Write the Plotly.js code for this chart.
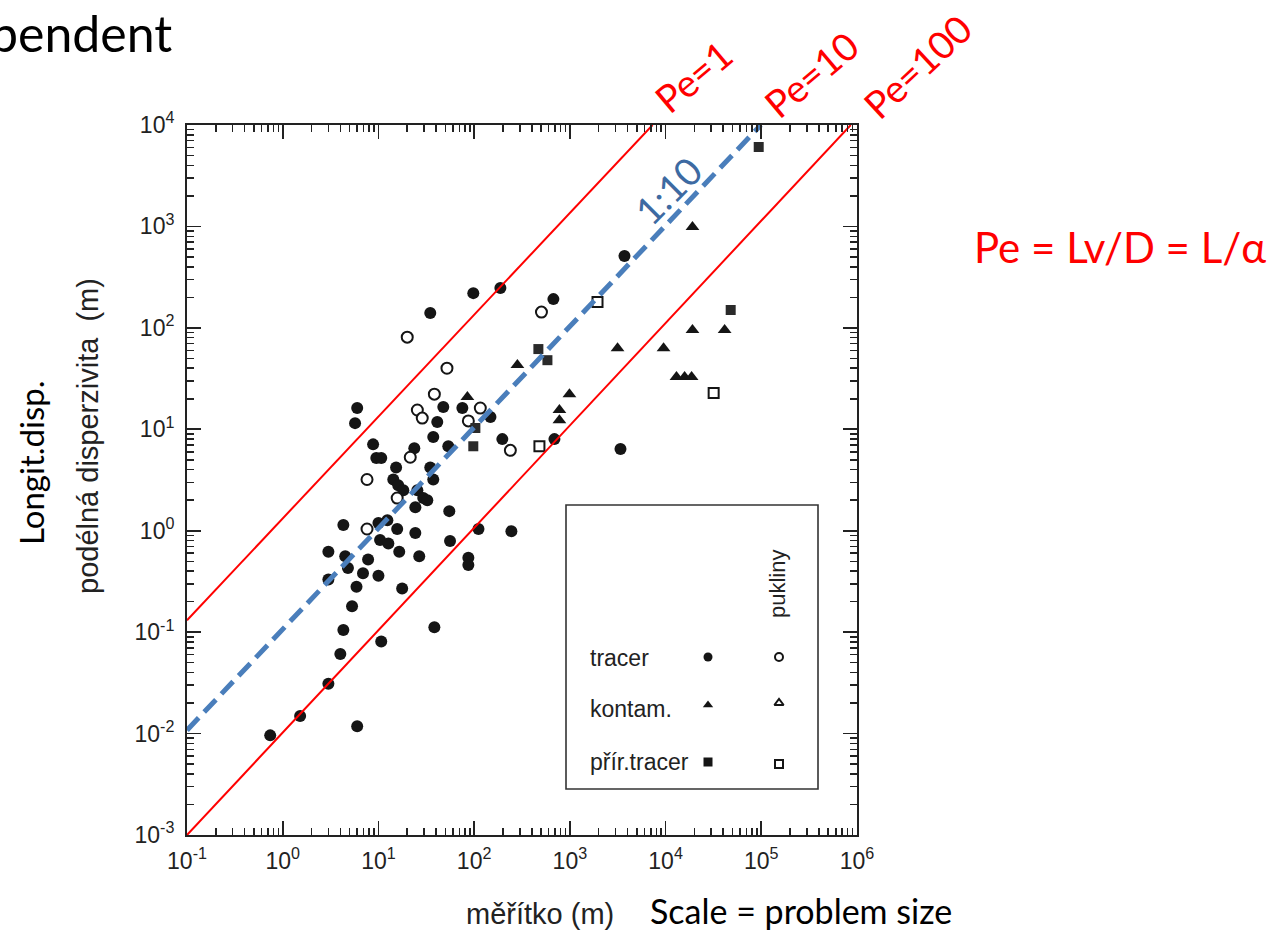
<!DOCTYPE html>
<html>
<head>
<meta charset="utf-8">
<script src="https://cdn.plot.ly/plotly-3.0.1.min.js"></script>
<style>html,body{margin:0;padding:0;background:#fff;overflow:hidden}#chart{width:1276px;height:933px}</style>
</head>
<body>
<div id="chart"></div>
<script>
// ---- data ----
const tracerX = [34.8, 98, 188, 673, 3720, 6.0, 5.7, 47.6, 41.2, 37.4, 75.3, 148, 197, 690, 3380, 53.7, 8.8, 9.5, 10.7, 23.7, 15.3, 14.3, 16.1, 18.2, 34.8, 37.4, 25.5, 29.4, 24.3, 32.4, 55, 4.3, 10, 12.4, 15.7, 10.4, 12.7, 24.3, 56, 16.5, 26.7, 3.0, 4.5, 4.8, 7.8, 6.9, 10, 3.0, 5.9, 17.7, 5.3, 4.3, 10.7, 38.4, 4.0, 3.0, 1.52, 6.0, 0.74, 87, 87, 111, 245];
const tracerY = [140, 220, 247, 192, 511, 16.2, 11.5, 16.6, 11.8, 8.4, 16.2, 13.2, 8.0, 8.0, 6.4, 6.8, 7.1, 5.2, 5.2, 6.5, 4.2, 3.2, 2.8, 2.5, 4.2, 3.2, 2.5, 2.1, 1.7, 2.0, 1.56, 1.14, 1.19, 1.27, 1.04, 0.81, 0.75, 0.95, 0.79, 0.62, 0.56, 0.62, 0.56, 0.43, 0.52, 0.38, 0.36, 0.33, 0.28, 0.27, 0.18, 0.105, 0.081, 0.112, 0.061, 0.031, 0.0149, 0.0118, 0.0096, 0.54, 0.46, 1.04, 0.99];
const tracerFracX = [20, 52, 38.4, 25.5, 28.7, 87, 116, 239, 21.5, 7.6, 15.7, 7.6, 505];
const tracerFracY = [81, 40, 22.2, 15.5, 12.9, 12.1, 16.2, 6.2, 5.3, 3.2, 2.1, 1.04, 143];
const kontamX = [85, 283, 990, 778, 778, 3150, 9530, 19100, 41400, 13000, 15800, 18700, 19100];
const kontamY = [20.8, 43, 22.2, 15.5, 12.3, 63, 63, 95, 95, 32.7, 32.7, 32.7, 986];
const natTracerX = [469, 583, 98, 103, 47900, 94000];
const natTracerY = [61.8, 48, 6.8, 10.3, 150, 6070];
const natTracerFracX = [481, 1945, 31800];
const natTracerFracY = [6.8, 180, 22.8];
// reference lines (end points as drawn)
const pe1X = [0.1, 7310], pe1Y = [0.131, 10000];
const pe100X = [0.1, 860000], pe100Y = [0.001, 10000];
const ratioX = [0.1, 99000], ratioY = [0.0108, 10000];
// tick labels
const xTickVals = [0.1, 1, 10, 100, 1000, 10000, 100000, 1000000];
const xTickText = ['10<sup>-1</sup>', '10<sup>0</sup>', '10<sup>1</sup>', '10<sup>2</sup>', '10<sup>3</sup>', '10<sup>4</sup>', '10<sup>5</sup>', '10<sup>6</sup>'];
const yTickVals = [0.001, 0.01, 0.1, 1, 10, 100, 1000, 10000];
const yTickText = ['10<sup>-3</sup>', '10<sup>-2</sup>', '10<sup>-1</sup>', '10<sup>0</sup>', '10<sup>1</sup>', '10<sup>2</sup>', '10<sup>3</sup>', '10<sup>4</sup>'];
const legendRows = ['tracer', 'kontam.', 'přír.tracer'];

// ---- layout helpers ----
const L = 187, R = 857, T = 125, B = 835;
const PX = v => (v - L) / (R - L);
const PY = v => (B - v) / (B - T);
function minorVals(lo, hi) {
  const out = [];
  for (let e = lo; e < hi; e++) for (let m = 2; m <= 9; m++) out.push(m * Math.pow(10, e));
  return out;
}
const ink = '#151515';
const axisCommon = {
  type: 'log', showgrid: false, zeroline: false,
  showline: true, linecolor: '#222', linewidth: 2, mirror: 'allticks',
  ticks: 'inside', ticklen: 14, tickwidth: 1.8, tickcolor: '#222',
  tickmode: 'array',
  tickfont: {family: 'Liberation Sans, Arial, sans-serif', size: 23, color: '#222'}
};
const xaxis = Object.assign({}, axisCommon, {range: [-1, 6], tickvals: xTickVals, ticktext: xTickText, ticklabelstandoff: 4});
const yaxis = Object.assign({}, axisCommon, {range: [-3, 4], tickvals: yTickVals, ticktext: yTickText, ticklabelstandoff: 6});
const tickOnly = {
  type: 'log', showgrid: false, zeroline: false, showline: true, linecolor: '#222', linewidth: 2, mirror: 'allticks',
  ticks: 'inside', tickcolor: '#222', tickmode: 'array', showticklabels: false, fixedrange: true
};
const xaxis3 = Object.assign({}, tickOnly, {overlaying: 'x', anchor: 'y3', range: [-1, 6], tickvals: minorVals(-1, 6), ticklen: 7, tickwidth: 1.5});
const yaxis3 = Object.assign({}, tickOnly, {overlaying: 'y', anchor: 'x3', range: [-3, 4], tickvals: minorVals(-3, 4), ticklen: 7, tickwidth: 1.5});
const xaxis4 = Object.assign({}, tickOnly, {overlaying: 'x', anchor: 'y4', range: [-1, 6], tickvals: xTickVals, ticklen: 14, tickwidth: 1.8});
const yaxis4 = Object.assign({}, tickOnly, {overlaying: 'y', anchor: 'x4', range: [-3, 4], tickvals: yTickVals, ticklen: 14, tickwidth: 1.8});

const traces = [
  {x: tracerX, y: tracerY, type: 'scatter', mode: 'markers', marker: {symbol: 'circle', size: 12, color: ink}},
  {x: tracerFracX, y: tracerFracY, type: 'scatter', mode: 'markers', marker: {symbol: 'circle', size: 11, color: '#fff', line: {color: ink, width: 2}}},
  {x: kontamX, y: kontamY, type: 'scatter', mode: 'markers', marker: {symbol: 'triangle-up', size: 12, color: ink}},
  {x: natTracerX, y: natTracerY, type: 'scatter', mode: 'markers', marker: {symbol: 'square', size: 10, color: '#2a2a2a'}},
  {x: natTracerFracX, y: natTracerFracY, type: 'scatter', mode: 'markers', marker: {symbol: 'square', size: 10, color: '#fff', line: {color: ink, width: 2}}},
  {x: pe1X, y: pe1Y, type: 'scatter', mode: 'lines', line: {color: '#ff0000', width: 2}},
  {x: pe100X, y: pe100Y, type: 'scatter', mode: 'lines', line: {color: '#ff0000', width: 2}},
  {x: ratioX, y: ratioY, type: 'scatter', mode: 'lines', line: {color: '#4a7ebb', width: 5, dash: '17px,8px'}},
  // carriers for the tick overlay axes
  {x: [], y: [], xaxis: 'x3', yaxis: 'y3', type: 'scatter', mode: 'markers'},
  {x: [], y: [], xaxis: 'x4', yaxis: 'y4', type: 'scatter', mode: 'markers'},
  // legend symbols (on an overlay 0..1 axis pair)
  {x: [PX(708), PX(708), PX(708)], y: [PY(657), PY(705), PY(762)], xaxis: 'x2', yaxis: 'y2', type: 'scatter', mode: 'markers',
   marker: {symbol: ['circle', 'triangle-up', 'square'], size: 9, color: ink}},
  {x: [PX(779), PX(779), PX(779)], y: [PY(657), PY(703), PY(764)], xaxis: 'x2', yaxis: 'y2', type: 'scatter', mode: 'markers',
   marker: {symbol: ['circle', 'triangle-up', 'square'], size: 8, color: '#fff', line: {color: ink, width: 2}}}
];

const calibri = 'Lato, "Open Sans", sans-serif';
const arial = 'Liberation Sans, Arial, sans-serif';
function ann(text, x, y, opts) {
  return Object.assign({text: text, x: PX(x), y: PY(y), xref: 'paper', yref: 'paper', showarrow: false,
    xanchor: 'center', yanchor: 'middle'}, opts);
}
const annotations = [
  ann('pendent', 174, 33, {xanchor: 'right', font: {family: calibri, size: 50, color: '#000'}}),
  ann('Pe=1', 693, 76, {textangle: -40, font: {family: calibri, size: 38, color: '#ff0000'}}),
  ann('Pe=10', 811, 74, {textangle: -40, font: {family: calibri, size: 38, color: '#ff0000'}}),
  ann('Pe=100', 917, 66, {textangle: -43, font: {family: calibri, size: 38, color: '#ff0000'}}),
  ann('1:10', 668, 190, {textangle: -45, font: {family: calibri, size: 38, color: '#3d6aa2'}}),
  ann('Pe = Lv/D = L/α', 972, 247, {xanchor: 'left', font: {family: calibri, size: 42, color: '#ff0000'}}),
  ann('Scale = problem size', 648, 910, {xanchor: 'left', font: {family: calibri, size: 34, color: '#000'}}),
  ann('měřítko (m)', 540, 914, {font: {family: arial, size: 29, color: '#222'}}),
  ann('Longit.disp.', 31, 463, {textangle: -90, font: {family: calibri, size: 33, color: '#000'}}),
  ann('podélná disperzivita&nbsp;&nbsp;(m)', 88, 436, {textangle: -90, font: {family: arial, size: 29, color: '#222'}}),
  ann(legendRows[0], 588, 658, {xanchor: 'left', font: {family: arial, size: 23, color: '#222'}}),
  ann(legendRows[1], 588, 709, {xanchor: 'left', font: {family: arial, size: 23, color: '#222'}}),
  ann(legendRows[2], 588, 762, {xanchor: 'left', font: {family: arial, size: 23, color: '#222'}}),
  ann('pukliny', 777, 584, {textangle: -90, font: {family: arial, size: 22, color: '#222'}})
];

const layout = {
  width: 1276, height: 933,
  margin: {l: L, r: 1276 - R, t: T, b: 933 - B, pad: 0},
  paper_bgcolor: '#fff', plot_bgcolor: '#fff',
  showlegend: false,
  xaxis: xaxis, yaxis: yaxis, xaxis3: xaxis3, yaxis3: yaxis3, xaxis4: xaxis4, yaxis4: yaxis4,
  xaxis2: {overlaying: 'x', anchor: 'y2', range: [0, 1], visible: false, fixedrange: true},
  yaxis2: {overlaying: 'y', anchor: 'x2', range: [0, 1], visible: false, fixedrange: true},
  shapes: [{type: 'rect', xref: 'paper', yref: 'paper', x0: PX(566), x1: PX(818), y0: PY(789), y1: PY(505),
    line: {color: '#333', width: 1.6}, fillcolor: 'rgba(0,0,0,0)'}],
  annotations: annotations
};
Plotly.newPlot('chart', traces, layout, {displayModeBar: false, staticPlot: true});
</script>
</body>
</html>
